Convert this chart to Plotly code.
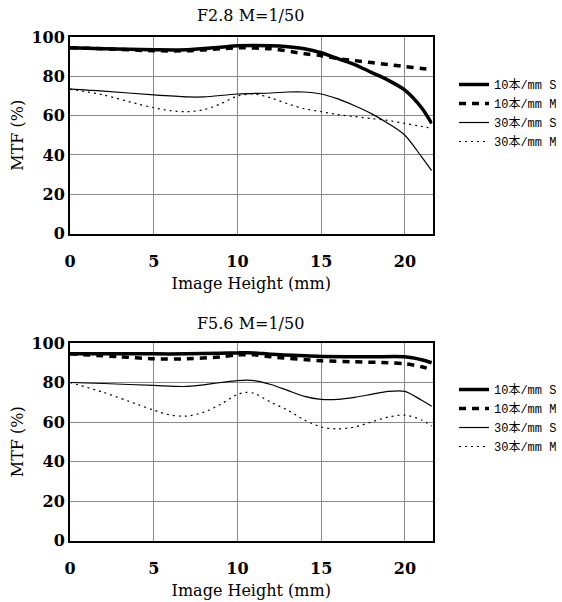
import plotly.graph_objects as go

# ---------------- data ----------------
titles = ["F2.8 M=1/50", "F5.6 M=1/50"]
series_names = ["10本/mm S", "10本/mm M", "30本/mm S", "30本/mm M"]

# F2.8
top_10S_x = [0, 2, 5, 7, 9, 10, 12, 13, 14, 15, 16, 17, 18, 19, 20, 21, 21.6]
top_10S_y = [94.5, 94, 93.5, 93.5, 94.8, 95.5, 95.5, 95, 94, 92, 89, 86, 82, 78, 73, 64, 56]
top_10M_x = [0, 2, 5, 7, 9, 10, 12, 14, 15, 16, 17, 18, 19, 20, 21, 21.6]
top_10M_y = [94.5, 94, 93, 93, 94, 94.5, 94, 91.5, 90.5, 89, 88, 87, 86, 85, 84, 83.5]
top_30S_x = [0, 2, 5, 7, 8, 10, 12, 13, 14, 15, 16, 17, 18, 19, 20, 21, 21.6]
top_30S_y = [73.5, 72.5, 70.5, 69.5, 69.5, 71, 71.5, 72, 72, 71, 68.5, 65, 61, 56, 50, 39, 32]
top_30M_x = [0, 2, 4, 5, 6, 7, 8, 9, 10, 11, 12, 13, 14, 15, 16, 17, 18, 19, 20, 21, 21.6]
top_30M_y = [73.5, 70.5, 66, 64, 62.5, 62, 63, 66, 70, 71, 69, 66, 63.5, 62, 60.5, 59.5, 58.5, 57.5, 56, 54.5, 53.5]

# F5.6
bot_10S_x = [0, 2, 5, 7, 9, 10, 11, 12, 14, 15, 18, 20, 21, 21.6]
bot_10S_y = [94.5, 94.5, 94.5, 94.5, 94.8, 95, 95, 94.3, 93.5, 93.2, 93, 93, 91.5, 90]
bot_10M_x = [0, 3, 5, 7, 9, 10, 11, 12, 15, 17, 19, 20, 21, 21.6]
bot_10M_y = [94.5, 93, 92, 92, 93, 94, 94, 93, 91, 90.5, 90, 89.5, 88, 86.5]
bot_30S_x = [0, 2, 5, 7, 9, 10, 11, 12, 13, 14, 15, 16, 17, 18, 19, 20, 21, 21.6]
bot_30S_y = [80, 79.5, 78.5, 78, 80, 81, 81, 79, 76, 73, 71.5, 71.5, 72.5, 74, 75.5, 75.5, 71, 68]
bot_30M_x = [0, 2, 4, 5, 6, 7, 8, 9, 10, 10.5, 11, 12, 13, 14, 15, 16, 17, 18, 19, 20, 21, 21.6]
bot_30M_y = [80, 75, 69, 66, 63.5, 63, 65, 69, 74, 75, 74.5, 70, 66, 61, 57.5, 56.5, 57.5, 60, 62.5, 63.5, 61, 58]

x_ticks = [0, 5, 10, 15, 20]
y_ticks = [0, 20, 40, 60, 80, 100]
x_title = "Image Height (mm)"
y_title = "MTF (%)"

# ---------------- figure ----------------
W, H = 562, 602


def px_x(p):
    return p / W


def px_y(p):
    return 1 - p / H


styles = [
    dict(color="black", width=3.5, dash="solid"),
    dict(color="black", width=3.5, dash="7px,6px"),
    dict(color="black", width=1.2, dash="solid"),
    dict(color="black", width=1.2, dash="2px,4px"),
]

fig = go.Figure()
top = [(top_10S_x, top_10S_y), (top_10M_x, top_10M_y), (top_30S_x, top_30S_y), (top_30M_x, top_30M_y)]
bot = [(bot_10S_x, bot_10S_y), (bot_10M_x, bot_10M_y), (bot_30S_x, bot_30S_y), (bot_30M_x, bot_30M_y)]
for i, (xs, ys) in enumerate(top):
    fig.add_trace(go.Scatter(x=xs, y=ys, mode="lines", name=series_names[i],
                             line=dict(shape="spline", smoothing=0.8, **styles[i]),
                             xaxis="x", yaxis="y", legend="legend"))
for i, (xs, ys) in enumerate(bot):
    fig.add_trace(go.Scatter(x=xs, y=ys, mode="lines", name=series_names[i],
                             line=dict(shape="spline", smoothing=0.8, **styles[i]),
                             xaxis="x2", yaxis="y2", legend="legend2"))

serif = "DejaVu Serif, Liberation Serif, serif"
tickfont = dict(family=serif, size=16, color="black", weight="bold")
titlefont = dict(family=serif, size=16, color="black")


def xa(anchor, dom):
    return dict(range=[0, 21.65], tickvals=x_ticks, showgrid=True, gridcolor="#8a8a8a", gridwidth=1,
                zeroline=False, showline=True, linecolor="black", linewidth=2, mirror=True,
                ticks="outside", ticklen=12, tickcolor="rgba(0,0,0,0)", tickfont=tickfont,
                title=dict(text=x_title, font=titlefont, standoff=8),
                anchor=anchor, domain=dom, automargin=False, fixedrange=True)


def ya(anchor, dom):
    return dict(range=[0, 100], tickvals=y_ticks, showgrid=True, gridcolor="#8a8a8a", gridwidth=1,
                zeroline=False, showline=True, linecolor="black", linewidth=2, mirror=True,
                ticks="", tickfont=tickfont, domain=dom,
                title=dict(text=y_title, font=titlefont, standoff=4),
                anchor=anchor, automargin=False, fixedrange=True)


xd = [px_x(70), px_x(432.5)]
yd_top = [px_y(233.5), px_y(37)]
yd_bot = [px_y(540.5), px_y(343)]

legfont = dict(family="Liberation Mono, Noto Sans CJK JP, monospace", size=12, color="black")
fig.update_layout(
    width=W, height=H, margin=dict(l=0, r=0, t=0, b=0, autoexpand=False),
    paper_bgcolor="white", plot_bgcolor="white",
    xaxis=xa("y", xd), yaxis=ya("x", yd_top),
    xaxis2=xa("y2", xd), yaxis2=ya("x2", yd_bot),
    legend=dict(x=px_x(454), y=px_y(70), xanchor="left", yanchor="top", font=legfont,
                bgcolor="rgba(0,0,0,0)", tracegroupgap=0, itemwidth=30),
    legend2=dict(x=px_x(454), y=px_y(375), xanchor="left", yanchor="top", font=legfont,
                 bgcolor="rgba(0,0,0,0)", tracegroupgap=0, itemwidth=30),
    annotations=[
        dict(text=titles[0], x=px_x(250), y=px_y(16), xref="paper", yref="paper",
             xanchor="center", yanchor="middle", showarrow=False, font=titlefont),
        dict(text=titles[1], x=px_x(250), y=px_y(323), xref="paper", yref="paper",
             xanchor="center", yanchor="middle", showarrow=False, font=titlefont),
    ],
    showlegend=True,
)

fig.write_html("out.html", config={"displayModeBar": False},
               post_script="document.body.style.margin='0';")
